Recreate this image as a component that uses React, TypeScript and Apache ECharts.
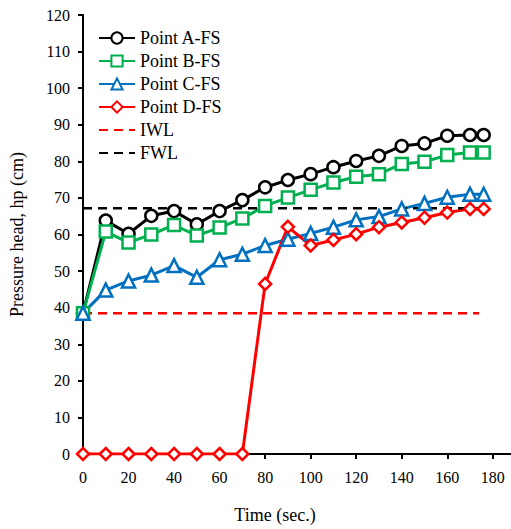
import React, { useEffect, useRef } from "react";
import * as echarts from "echarts";

const time = [0, 10, 20, 30, 40, 50, 60, 70, 80, 90, 100, 110, 120, 130, 140, 150, 160, 170, 176];
const pointA = [38.5, 63.8, 60.2, 65.1, 66.4, 62.8, 66.4, 69.4, 72.9, 74.9, 76.5, 78.4, 80.1, 81.5, 84.2, 84.9, 87.0, 87.2, 87.2];
const pointB = [38.5, 60.8, 57.8, 60.0, 62.6, 59.7, 61.9, 64.4, 67.8, 70.1, 72.2, 74.2, 75.8, 76.5, 79.3, 79.9, 81.7, 82.4, 82.4];
const pointC = [38.5, 44.8, 47.3, 48.9, 51.5, 48.3, 53.1, 54.6, 57.0, 58.7, 60.3, 62.0, 64.0, 64.9, 67.0, 68.5, 70.2, 71.0, 71.0];
const pointD = [0, 0, 0, 0, 0, 0, 0, 0, 46.5, 62.1, 57.0, 58.5, 60.1, 62.0, 63.3, 64.6, 66.0, 67.0, 67.0];
const iwlTime = [0, 174];
const iwl = [38.5, 38.5];
const fwlTime = [0, 176];
const fwl = [67.2, 67.2];
const xTicks = [0, 20, 40, 60, 80, 100, 120, 140, 160, 180];
const seriesNames = ["Point A-FS", "Point B-FS", "Point C-FS", "Point D-FS", "IWL", "FWL"];

const FONT = "Liberation Serif, serif";

function pairs(xs: number[], ys: number[]) {
  return xs.map((x, i) => [x, ys[i]]);
}

export default function App() {
  const ref = useRef<HTMLDivElement>(null);
  useEffect(() => {
    document.body.style.margin = "0";
    if (!ref.current) return;
    const chart = echarts.init(ref.current, null, { renderer: "svg" });
    const markerSeries = (name: string, ys: number[], color: string, symbol: string, size: number) => ({
      name,
      type: "line",
      data: pairs(time, ys),
      symbol,
      symbolSize: size,
      showAllSymbol: true,
      lineStyle: { color, width: 3 },
      itemStyle: { color: "#ffffff", borderColor: color, borderWidth: 2.5 },
      color,
    });
    const hiddenSymbol = { color: "rgba(0,0,0,0)", borderColor: "rgba(0,0,0,0)", borderWidth: 0, opacity: 0 };
    chart.setOption({
      animation: false,
      backgroundColor: "#ffffff",
      grid: { left: 75, right: 0, top: 15, bottom: 75 },
      legend: {
        left: 98,
        top: 29,
        padding: 0,
        orient: "vertical",
        itemWidth: 36,
        itemHeight: 14,
        itemGap: 5,
        data: [
          seriesNames[0],
          seriesNames[1],
          seriesNames[2],
          seriesNames[3],
          { name: seriesNames[4], itemStyle: hiddenSymbol },
          { name: seriesNames[5], itemStyle: hiddenSymbol },
        ],
        textStyle: { fontFamily: FONT, fontSize: 18, color: "#000", lineHeight: 18 },
      },
      xAxis: {
        type: "value",
        min: 0,
        max: 188,
        interval: 20,
        axisLine: { lineStyle: { color: "#000", width: 2 } },
        axisTick: { show: true, length: 5, lineStyle: { color: "#000", width: 2 }, customValues: xTicks },
        axisLabel: { customValues: xTicks, margin: 15, fontFamily: FONT, fontSize: 16, color: "#000" },
        splitLine: { show: false },
      },
      yAxis: {
        type: "value",
        min: 0,
        max: 120,
        interval: 10,
        name: "Pressure head, hp (cm)",
        nameLocation: "middle",
        nameRotate: 90,
        nameGap: 57,
        nameTextStyle: { fontFamily: FONT, fontSize: 18, color: "#000" },
        axisLine: { show: true, lineStyle: { color: "#000", width: 2 } },
        axisTick: { show: true, length: 5, lineStyle: { color: "#000", width: 2 } },
        axisLabel: { margin: 13, fontFamily: FONT, fontSize: 16, color: "#000" },
        splitLine: { show: false },
      },
      graphic: [
        {
          type: "text",
          x: 275,
          y: 515,
          style: {
            text: "Time (sec.)",
            font: `18px ${FONT}`,
            fill: "#000",
            align: "center",
            verticalAlign: "middle",
          },
        },
      ],
      series: [
        markerSeries(seriesNames[0], pointA, "#000000", "circle", 12),
        markerSeries(seriesNames[1], pointB, "#00B050", "rect", 12),
        markerSeries(seriesNames[2], pointC, "#0070C0", "triangle", 13),
        markerSeries(seriesNames[3], pointD, "#FF0000", "diamond", 12),
        {
          name: seriesNames[4],
          type: "line",
          data: pairs(iwlTime, iwl),
          symbol: "none",
          color: "#FF0000",
          lineStyle: { color: "#FF0000", width: 2.5, type: [9, 6] },
        },
        {
          name: seriesNames[5],
          type: "line",
          data: pairs(fwlTime, fwl),
          symbol: "none",
          color: "#000000",
          lineStyle: { color: "#000000", width: 2.5, type: [9, 6] },
        },
      ],
    });
    return () => chart.dispose();
  }, []);
  return <div ref={ref} style={{ width: 511, height: 529 }} />;
}
